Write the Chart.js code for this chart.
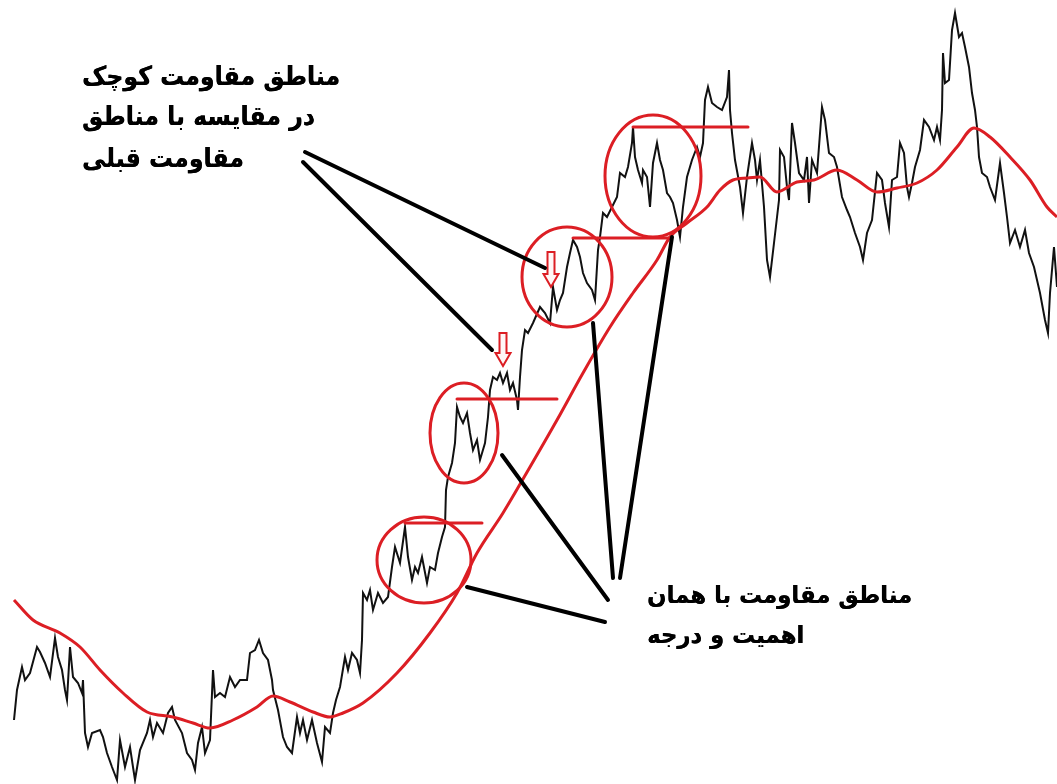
<!DOCTYPE html>
<html>
<head>
<meta charset="utf-8">
<script src="https://cdn.jsdelivr.net/npm/chart.js@4"></script>
<style>
html,body{margin:0;padding:0;background:#fff;}
#wrap{width:1057px;height:784px;}
</style>
</head>
<body>
<div id="wrap"><canvas id="c" width="1057" height="784"></canvas></div>
<script>
// ---- price series (bar index, price) ----
const priceT = [14,17,22,25,30,37,40,45,50,55,58,62,65,67,70,73,78,82,83,85,88,92,100,103,107,112,117,120,125,130,133,135,140,147,150,153,157,163,168,172,175,182,187,192,195,198,202,205,210,213,215,220,225,230,235,240,247,250,255,259,263,268,272,273,278,283,287,292,297,300,303,307,312,317,322,325,330,333,336,340,345,348,352,357,360,362,363,367,370,373,378,383,388,392,395,400,405,408,412,415,418,422,427,430,435,438,442,445,446,448,452,455,457,460,463,467,470,473,477,480,485,488,490,493,497,500,503,507,510,513,517,518,520,522,525,528,533,540,545,550,553,557,560,563,567,570,573,577,580,583,587,592,595,598,600,603,607,612,617,620,625,628,632,633,635,638,642,643,647,650,653,657,660,663,667,670,673,677,680,683,687,692,697,700,703,705,708,712,717,722,727,729,730,732,735,740,743,747,752,755,757,760,764,767,770,774,779,780,784,787,789,792,795,799,804,807,809,812,817,822,825,829,834,837,842,847,850,855,860,863,867,872,877,882,885,889,892,897,900,904,907,909,912,915,920,924,929,934,937,940,942,943,945,949,952,955,959,962,965,969,972,975,977,979,982,987,990,995,1000,1004,1007,1010,1015,1020,1025,1029,1034,1040,1045,1048,1050,1054,1057];
const priceV = [64,94,117,104,111,137,132,121,107,146,127,114,94,84,137,107,101,91,104,51,37,51,54,47,31,17,4,44,17,37,17,4,34,51,64,47,61,51,71,77,64,51,31,24,14,41,57,31,44,114,87,91,87,107,97,104,104,131,134,144,131,124,104,94,74,47,37,31,67,51,64,44,64,41,22,57,51,71,84,97,127,114,131,124,111,144,191,184,194,174,191,181,187,217,237,221,257,227,204,217,211,227,201,217,214,231,247,257,294,307,321,341,377,367,361,371,351,334,344,324,341,367,394,407,404,411,401,411,394,401,384,374,407,434,454,451,461,477,471,461,497,474,484,491,517,531,544,537,527,511,501,494,484,534,547,571,567,577,587,611,607,617,641,657,627,614,601,614,607,577,621,641,624,614,591,587,581,564,547,577,607,624,637,627,641,684,697,681,677,674,687,714,674,651,624,597,571,607,641,624,604,624,577,524,507,541,584,634,627,597,584,661,641,611,604,627,581,624,611,677,664,631,627,617,587,574,567,551,537,524,551,564,611,604,581,557,604,607,641,631,597,587,601,617,634,664,657,644,657,644,674,731,701,704,754,771,747,751,737,717,691,674,657,627,611,607,597,584,621,591,567,541,554,537,554,531,517,491,464,451,491,537,497];

// ---- moving average ----
const maT = [14,33,60,80,100,123,147,173,193,210,233,257,273,290,313,330,343,363,397,430,457,477,503,530,557,583,610,633,657,670,687,707,720,733,747,760,777,797,814,837,857,877,897,917,937,957,974,990,1010,1030,1047,1057];
const maV = [184,164,151,137,114,91,72,67,61,56,64,77,88,82,72,67,71,81,111,151,191,231,271,317,364,411,457,491,524,547,561,577,594,604,606,607,592,602,604,614,604,592,596,601,614,637,656,647,627,604,577,567];

// ---- annotations (in bar index / price units) ----
const zoneX = [424,464,567,653];
const zoneP = [224,351,507,608];
const zoneHalfT = [47,34,45,48];
const zoneHalfP = [43,50,50,61];

const levelFrom = [405,457,573,633];
const levelTo   = [482,557,670,748];
const levelP    = [261,385,546,657];

const pointerFromT = [305,303,467,502,593,672];
const pointerFromP = [632,622,197,329,461,547];
const pointerToT   = [545,492,605,608,613,620];
const pointerToP   = [516,434,162,184,206,206];

const arrowT = [551,503];
const arrowTopP = [532,451];
const arrowTipP = [497,418];

const noteTop = ['مناطق مقاومت کوچک','در مقایسه با مناطق','مقاومت قبلی'];
const noteBottom = ['مناطق مقاومت با همان','اهمیت و درجه'];

const RED = '#dc1e24';

const annotate = {
  id:'annotate',
  afterDatasetsDraw(chart){
    const ctx = chart.ctx, X = chart.scales.x, Y = chart.scales.y;
    const px = v => X.getPixelForValue(v), py = v => Y.getPixelForValue(v);
    ctx.save();
    ctx.lineCap = 'round';
    // horizontal levels
    ctx.strokeStyle = RED; ctx.lineWidth = 3;
    for (let i=0;i<levelP.length;i++){
      ctx.beginPath();
      ctx.moveTo(px(levelFrom[i]), py(levelP[i]));
      ctx.lineTo(px(levelTo[i]), py(levelP[i]));
      ctx.stroke();
    }
    // zone circles
    ctx.lineWidth = 3;
    for (let i=0;i<zoneX.length;i++){
      const cx = px(zoneX[i]), cy = py(zoneP[i]);
      const rx = Math.abs(px(zoneX[i]+zoneHalfT[i]) - cx);
      const ry = Math.abs(py(zoneP[i]+zoneHalfP[i]) - cy);
      ctx.beginPath();
      ctx.ellipse(cx, cy, rx, ry, 0, 0, Math.PI*2);
      ctx.stroke();
    }
    // arrows
    for (let i=0;i<arrowT.length;i++){
      const x = px(arrowT[i]), y0 = py(arrowTopP[i]), y1 = py(arrowTipP[i]);
      const hl = 13, sw = 3.5, hw = 7.5;
      ctx.beginPath();
      ctx.moveTo(x-sw, y0); ctx.lineTo(x+sw, y0); ctx.lineTo(x+sw, y1-hl);
      ctx.lineTo(x+hw, y1-hl); ctx.lineTo(x, y1); ctx.lineTo(x-hw, y1-hl);
      ctx.lineTo(x-sw, y1-hl); ctx.closePath();
      ctx.fillStyle = '#fff6f6'; ctx.fill();
      ctx.lineWidth = 2; ctx.lineJoin='miter'; ctx.strokeStyle = RED; ctx.stroke();
    }
    // pointer lines
    ctx.strokeStyle = '#000'; ctx.lineWidth = 4;
    for (let i=0;i<pointerFromT.length;i++){
      ctx.beginPath();
      ctx.moveTo(px(pointerFromT[i]), py(pointerFromP[i]));
      ctx.lineTo(px(pointerToT[i]), py(pointerToP[i]));
      ctx.stroke();
    }
    // notes
    ctx.fillStyle = '#000';
    ctx.direction = 'rtl';
    ctx.textAlign = 'left';
    ctx.textBaseline = 'alphabetic';
    const fam = '"DejaVu Sans", sans-serif';
    function block(lines, left, bases, targetW, targetAsc){
      ctx.font = 'bold 100px ' + fam;
      const asc = ctx.measureText('ا').actualBoundingBoxAscent || 72;
      const fs = 100 * targetAsc / asc;
      ctx.font = 'bold ' + fs.toFixed(1) + 'px ' + fam;
      const sx = targetW / ctx.measureText(lines[0]).width;
      lines.forEach((t,i)=>{
        ctx.save();
        ctx.translate(left, bases[i]);
        ctx.scale(sx, 1);
        ctx.fillText(t, 0, 0);
        ctx.fillText(t, 0.4, 0);
        ctx.restore();
      });
    }
    block(noteTop, px(82), [85,125,167], 258, 20);
    block(noteBottom, px(647), [603,643], 265, 18.5);
    ctx.restore();
  }
};

const toPts = (T,V) => T.map((t,i)=>({x:t, y:V[i]}));

new Chart(document.getElementById('c'), {
  type:'line',
  data:{
    datasets:[
      {label:'Price', data: toPts(priceT, priceV), borderColor:'#111', borderWidth:2, tension:0, pointRadius:0, order:2},
      {label:'MA', data: toPts(maT, maV), borderColor:RED, borderWidth:3, tension:0.4, cubicInterpolationMode:'monotone', pointRadius:0, order:1}
    ]
  },
  options:{
    responsive:false,
    animation:false,
    devicePixelRatio:1,
    layout:{padding:0},
    plugins:{legend:{display:false}, tooltip:{enabled:false}},
    scales:{
      x:{type:'linear', min:0, max:1057, display:false},
      y:{type:'linear', min:0, max:784, display:false}
    }
  },
  plugins:[annotate]
});
</script>
</body>
</html>
